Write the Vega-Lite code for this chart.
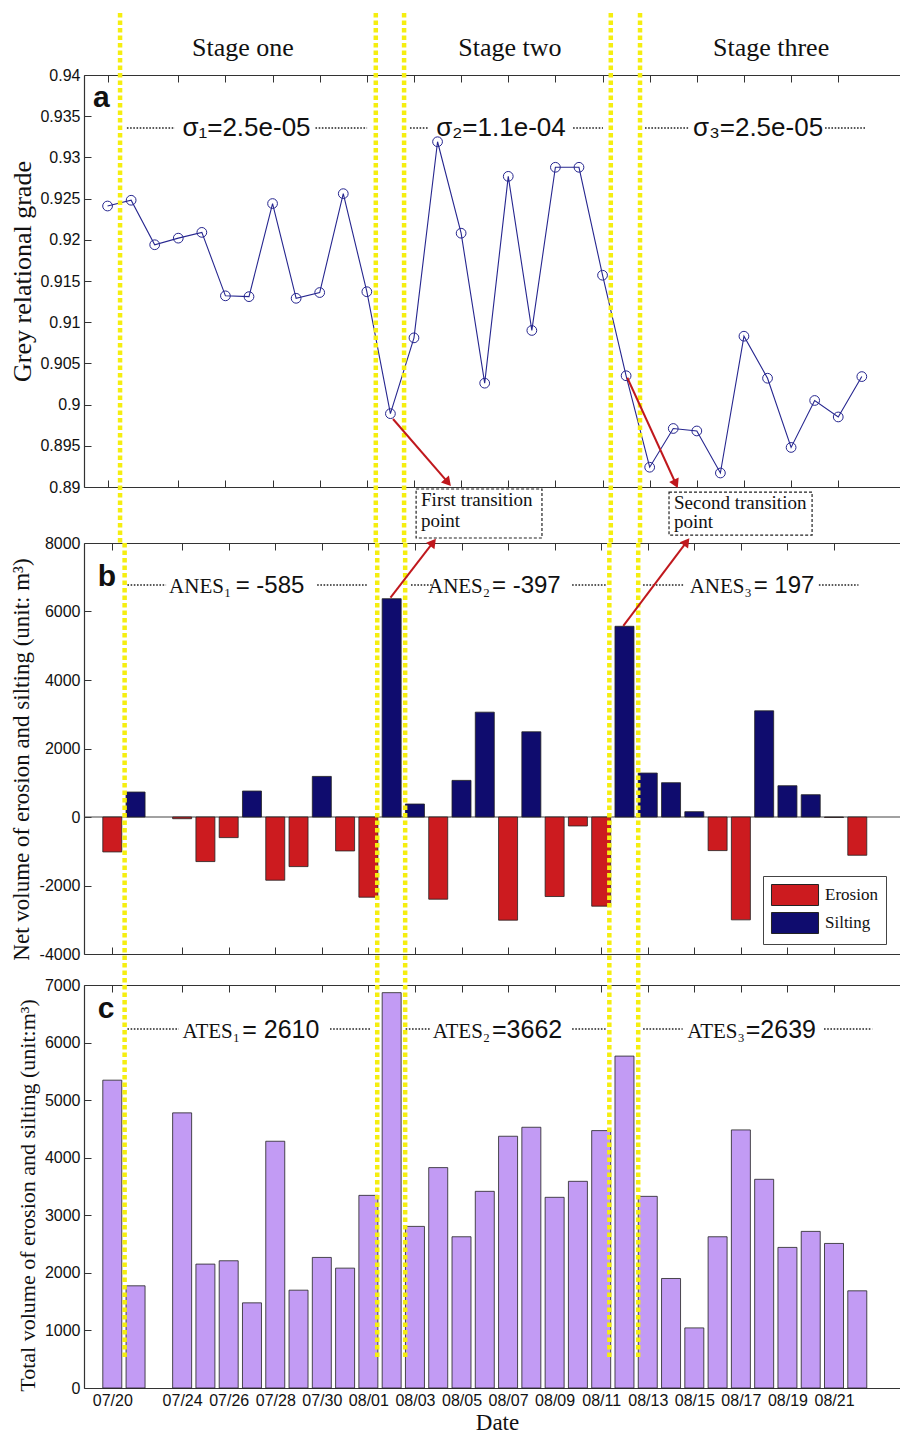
{
 "$schema": "https://vega.github.io/schema/vega-lite/v6.json",
 "padding": {"left": 9, "top": 10, "right": 0, "bottom": 0},
 "background": "white",
 "datasets": {
  "days": [
   {"slot":1,"date":"07/20","grade":0.9241,"net":-1020,"total":5347,"type":"Erosion"},
   {"slot":2,"date":"07/21","grade":0.9248,"net":729,"total":1775,"type":"Silting"},
   {"slot":3,"date":"07/22","grade":0.9194},
   {"slot":4,"date":"07/24","grade":0.9202,"net":-50,"total":4779,"type":"Erosion"},
   {"slot":5,"date":"07/25","grade":0.9209,"net":-1302,"total":2152,"type":"Erosion"},
   {"slot":6,"date":"07/26","grade":0.9132,"net":-602,"total":2210,"type":"Erosion"},
   {"slot":7,"date":"07/27","grade":0.9131,"net":758,"total":1479,"type":"Silting"},
   {"slot":8,"date":"07/28","grade":0.9244,"net":-1846,"total":4286,"type":"Erosion"},
   {"slot":9,"date":"07/29","grade":0.9129,"net":-1448,"total":1699,"type":"Erosion"},
   {"slot":10,"date":"07/30","grade":0.9136,"net":1185,"total":2268,"type":"Silting"},
   {"slot":11,"date":"07/31","grade":0.9256,"net":-991,"total":2082,"type":"Erosion"},
   {"slot":12,"date":"08/01","grade":0.9137,"net":-2342,"total":3346,"type":"Erosion"},
   {"slot":13,"date":"08/02","grade":0.8989,"net":6374,"total":6867,"type":"Silting"},
   {"slot":14,"date":"08/03","grade":0.9081,"net":379,"total":2807,"type":"Silting"},
   {"slot":15,"date":"08/04","grade":0.9319,"net":-2400,"total":3828,"type":"Erosion"},
   {"slot":16,"date":"08/05","grade":0.9208,"net":1069,"total":2627,"type":"Silting"},
   {"slot":17,"date":"08/06","grade":0.9026,"net":3061,"total":3416,"type":"Silting"},
   {"slot":18,"date":"08/07","grade":0.9277,"net":-3012,"total":4373,"type":"Erosion"},
   {"slot":19,"date":"08/08","grade":0.9090,"net":2488,"total":4529,"type":"Silting"},
   {"slot":20,"date":"08/09","grade":0.9288,"net":-2322,"total":3312,"type":"Erosion"},
   {"slot":21,"date":"08/10","grade":0.9288,"net":-262,"total":3590,"type":"Erosion"},
   {"slot":22,"date":"08/11","grade":0.9157,"net":-2604,"total":4471,"type":"Erosion"},
   {"slot":23,"date":"08/12","grade":0.9035,"net":5568,"total":5765,"type":"Silting"},
   {"slot":24,"date":"08/13","grade":0.8924,"net":1283,"total":3329,"type":"Silting"},
   {"slot":25,"date":"08/14","grade":0.8971,"net":1001,"total":1902,"type":"Silting"},
   {"slot":26,"date":"08/15","grade":0.8968,"net":155,"total":1044,"type":"Silting"},
   {"slot":27,"date":"08/16","grade":0.8917,"net":-981,"total":2627,"type":"Erosion"},
   {"slot":28,"date":"08/17","grade":0.9083,"net":-3003,"total":4483,"type":"Erosion"},
   {"slot":29,"date":"08/18","grade":0.9032,"net":3100,"total":3625,"type":"Silting"},
   {"slot":30,"date":"08/19","grade":0.8948,"net":913,"total":2442,"type":"Silting"},
   {"slot":31,"date":"08/20","grade":0.9005,"net":651,"total":2720,"type":"Silting"},
   {"slot":32,"date":"08/21","grade":0.8985,"net":-15,"total":2511,"type":"Erosion"},
   {"slot":33,"date":"08/22","grade":0.9034,"net":-1117,"total":1688,"type":"Erosion"}
  ],
  "bounds": [{"b":1.53},{"b":12.38},{"b":13.58},{"b":22.35},{"b":23.59}]
 },
 "spacing": 31,
 "bounds": "flush",
 "vconcat": [
  {
   "width": 816, "height": 437,
   "data": {"name": "days"},
   "resolve": {"axis": {"x": "independent", "y": "independent"}},
   "layer": [
    {"mark": {"type": "line", "color": "#26268f", "strokeWidth": 1.1},
     "encoding": {
      "x": {"field": "slot", "type": "quantitative", "scale": {"domain": [0, 34.62], "nice": false, "zero": false},
            "axis": {"orient": "bottom", "offset": -25, "values": [1,4,6,8,10,12,14,16,18,20,22,24,26,28,30,32], "labels": false, "tickSize": -7, "title": null}},
      "y": {"field": "grade", "type": "quantitative", "scale": {"domain": [0.89, 0.94], "range": [412, 0], "nice": false, "zero": false},
            "axis": {"orient": "left", "values": [0.89,0.895,0.9,0.905,0.91,0.915,0.92,0.925,0.93,0.935,0.94], "format": "~g", "tickSize": -7, "labelPadding": 11,
                     "title": "Grey relational grade", "titleFontSize": 26, "titleX": -62, "titleY": 196, "titleBaseline": "middle", "titleAngle": -90}}
     }},
    {"mark": {"type": "point", "shape": "circle", "filled": false, "color": "#26268f", "size": 95, "strokeWidth": 1, "opacity": 1},
     "encoding": {
      "x": {"field": "slot", "type": "quantitative", "axis": {"orient": "top", "values": [1,4,6,8,10,12,14,16,18,20,22,24,26,28,30,32], "labels": false, "tickSize": -7, "title": null}},
      "y": {"field": "grade", "type": "quantitative", "axis": null}
     }},
    {"data": {"name": "bounds"}, "mark": {"type": "rule", "color": "#f5ee10", "strokeWidth": 4.5, "strokeDash": [4.5, 3]},
     "encoding": {"x": {"field": "b", "type": "quantitative", "axis": null}, "y": {"datum": 0.94752, "axis": null}, "y2": {"datum": 0.8832}}},
    {"data": {"values": [{}]}, "mark": {"type": "rect", "fill": "white", "stroke": "#222", "strokeWidth": 1.2, "strokeDash": [3, 2]},
     "encoding": {"x": {"datum": 14.09, "axis": null}, "x2": {"datum": 19.43}, "y": {"datum": 0.88976, "axis": null}, "y2": {"datum": 0.88381}}},
    {"data": {"values": [{}]}, "mark": {"type": "rect", "fill": "white", "stroke": "#222", "strokeWidth": 1.2, "strokeDash": [3, 2]},
     "encoding": {"x": {"datum": 24.82, "axis": null}, "x2": {"datum": 30.89}, "y": {"datum": 0.88939, "axis": null}, "y2": {"datum": 0.88417}}},
    {"data": {"values": [{}]}, "mark": {"type": "text", "text": ["First transition", "point"], "font": "Liberation Serif", "fontSize": 19, "align": "left", "baseline": "alphabetic", "lineHeight": 21, "color": "#111"},
     "encoding": {"x": {"datum": 14.3, "axis": null}, "y": {"datum": 0.88769, "axis": null}}},
    {"data": {"values": [{}]}, "mark": {"type": "text", "text": ["Second transition", "point"], "font": "Liberation Serif", "fontSize": 19, "align": "left", "baseline": "alphabetic", "lineHeight": 19, "color": "#111"},
     "encoding": {"x": {"datum": 25.03, "axis": null}, "y": {"datum": 0.88733, "axis": null}}},
    {"data": {"values": [{}]}, "mark": {"type": "text", "text": "Stage one", "font": "Liberation Serif", "fontSize": 26, "align": "center", "baseline": "alphabetic", "color": "#111"},
     "encoding": {"x": {"datum": 6.746, "axis": null}, "y": {"datum": 0.94231, "axis": null}}},
    {"data": {"values": [{}]}, "mark": {"type": "text", "text": "Stage two", "font": "Liberation Serif", "fontSize": 26, "align": "center", "baseline": "alphabetic", "color": "#111"},
     "encoding": {"x": {"datum": 18.07, "axis": null}, "y": {"datum": 0.94231, "axis": null}}},
    {"data": {"values": [{}]}, "mark": {"type": "text", "text": "Stage three", "font": "Liberation Serif", "fontSize": 26, "align": "center", "baseline": "alphabetic", "color": "#111"},
     "encoding": {"x": {"datum": 29.15, "axis": null}, "y": {"datum": 0.94231, "axis": null}}},
    {"data": {"values": [{}]}, "mark": {"type": "text", "text": "a", "font": "Liberation Sans", "fontSize": 30, "fontWeight": "bold", "align": "left", "baseline": "alphabetic", "color": "#111"},
     "encoding": {"x": {"datum": 0.38, "axis": null}, "y": {"datum": 0.93612, "axis": null}}},
    {"data": {"values": [{}]}, "mark": {"type": "text", "text": "σ₁=2.5e-05", "font": "Liberation Sans", "fontSize": 26, "align": "center", "baseline": "alphabetic", "color": "#111"},
     "encoding": {"x": {"datum": 6.894, "axis": null}, "y": {"datum": 0.9326, "axis": null}}},
    {"data": {"values": [{}]}, "mark": {"type": "text", "text": "σ₂=1.1e-04", "font": "Liberation Sans", "fontSize": 26, "align": "center", "baseline": "alphabetic", "color": "#111"},
     "encoding": {"x": {"datum": 17.69, "axis": null}, "y": {"datum": 0.9326, "axis": null}}},
    {"data": {"values": [{}]}, "mark": {"type": "text", "text": "σ₃=2.5e-05", "font": "Liberation Sans", "fontSize": 26, "align": "center", "baseline": "alphabetic", "color": "#111"},
     "encoding": {"x": {"datum": 28.6, "axis": null}, "y": {"datum": 0.9326, "axis": null}}},
    {"data": {"values": [{}]}, "mark": {"type": "rule", "color": "#222", "strokeWidth": 1.6, "strokeDash": [1.6, 1.6]},
     "encoding": {"x": {"datum": 1.82, "axis": null}, "x2": {"datum": 3.86}, "y": {"datum": 0.93357, "axis": null}}},
    {"data": {"values": [{}]}, "mark": {"type": "rule", "color": "#222", "strokeWidth": 1.6, "strokeDash": [1.6, 1.6]},
     "encoding": {"x": {"datum": 9.82, "axis": null}, "x2": {"datum": 12.01}, "y": {"datum": 0.93357, "axis": null}}},
    {"data": {"values": [{}]}, "mark": {"type": "rule", "color": "#222", "strokeWidth": 1.6, "strokeDash": [1.6, 1.6]},
     "encoding": {"x": {"datum": 13.83, "axis": null}, "x2": {"datum": 14.6}, "y": {"datum": 0.93357, "axis": null}}},
    {"data": {"values": [{}]}, "mark": {"type": "rule", "color": "#222", "strokeWidth": 1.6, "strokeDash": [1.6, 1.6]},
     "encoding": {"x": {"datum": 20.75, "axis": null}, "x2": {"datum": 22.02}, "y": {"datum": 0.93357, "axis": null}}},
    {"data": {"values": [{}]}, "mark": {"type": "rule", "color": "#222", "strokeWidth": 1.6, "strokeDash": [1.6, 1.6]},
     "encoding": {"x": {"datum": 23.8, "axis": null}, "x2": {"datum": 25.63}, "y": {"datum": 0.93357, "axis": null}}},
    {"data": {"values": [{}]}, "mark": {"type": "rule", "color": "#222", "strokeWidth": 1.6, "strokeDash": [1.6, 1.6]},
     "encoding": {"x": {"datum": 31.44, "axis": null}, "x2": {"datum": 33.14}, "y": {"datum": 0.93357, "axis": null}}},
    {"data": {"values": [{}]}, "mark": {"type": "rule", "color": "#c0181d", "strokeWidth": 2},
     "encoding": {"x": {"datum": 13.11, "axis": null}, "y": {"datum": 0.89825, "axis": null}, "x2": {"datum": 15.44}, "y2": {"datum": 0.89055}}},
    {"data": {"values": [{}]}, "mark": {"type": "point", "shape": "triangle-up", "filled": true, "color": "#c0181d", "size": 110, "angle": 139, "opacity": 1},
     "encoding": {"x": {"datum": 15.44, "axis": null}, "y": {"datum": 0.89055, "axis": null}}},
    {"data": {"values": [{}]}, "mark": {"type": "rule", "color": "#c0181d", "strokeWidth": 2},
     "encoding": {"x": {"datum": 23.05, "axis": null}, "y": {"datum": 0.90326, "axis": null}, "x2": {"datum": 25.11}, "y2": {"datum": 0.89039}}},
    {"data": {"values": [{}]}, "mark": {"type": "point", "shape": "triangle-up", "filled": true, "color": "#c0181d", "size": 110, "angle": 155, "opacity": 1},
     "encoding": {"x": {"datum": 25.11, "axis": null}, "y": {"datum": 0.89039, "axis": null}}}
   ]
  },
  {
   "width": 816, "height": 411,
   "data": {"name": "days"},
   "resolve": {"axis": {"x": "independent", "y": "independent"}},
   "layer": [
    {"data": {"values": [{}]}, "mark": {"type": "rule", "color": "#444", "strokeWidth": 1},
     "encoding": {"y": {"datum": 0, "axis": null}}},
    {"mark": {"type": "bar", "size": 19, "stroke": "#222", "strokeWidth": 0.8},
     "encoding": {
      "x": {"field": "slot", "type": "quantitative", "scale": {"domain": [0, 34.62], "nice": false, "zero": false},
            "axis": {"orient": "bottom", "values": [1,4,6,8,10,12,14,16,18,20,22,24,26,28,30,32], "labels": false, "tickSize": -7, "title": null}},
      "y": {"field": "net", "type": "quantitative", "scale": {"domain": [-4000, 8000], "nice": false},
            "axis": {"orient": "left", "values": [-4000,-2000,0,2000,4000,6000,8000], "format": "d", "labelExpr": "replace(datum.label, '\u2212', '-')", "tickSize": -7, "labelPadding": 11,
                     "title": "Net volume of erosion and silting (unit: m³)", "titleFontSize": 23, "titleX": -62.5, "titleY": 216, "titleBaseline": "middle", "titleAngle": -90}},
      "color": {"field": "type", "type": "nominal", "scale": {"domain": ["Erosion", "Silting"], "range": ["#cc1b1f", "#0f0c6e"]},
                "legend": {"orient": "none", "legendX": 679, "legendY": 801, "direction": "vertical", "title": null,
                           "symbolType": "M-2.24,-1H2.24V1H-2.24Z", "symbolSize": 441, "symbolOffset": 13, "symbolStrokeColor": "#222", "symbolStrokeWidth": 1, "symbolOpacity": 1,
                           "labelFont": "Liberation Serif", "labelFontSize": 17, "labelColor": "#111", "labelOffset": 19,
                           "labelExpr": "datum.label + '\u00a0\u00a0'",
                           "strokeColor": "#444", "fillColor": "white", "padding": 8, "rowPadding": 2}}
     }},
    {"data": {"name": "bounds"}, "mark": {"type": "rule", "color": "#f5ee10", "strokeWidth": 4.5, "strokeDash": [4.5, 3]},
     "encoding": {"x": {"field": "b", "type": "quantitative", "axis": {"orient": "top", "values": [1,4,6,8,10,12,14,16,18,20,22,24,26,28,30,32], "labels": false, "tickSize": -7, "title": null}},
                  "y": {"datum": 8000, "axis": null}, "y2": {"datum": -4898}}},
    {"data": {"values": [{}]}, "mark": {"type": "text", "text": "b", "font": "Liberation Sans", "fontSize": 30, "fontWeight": "bold", "align": "left", "baseline": "alphabetic", "color": "#111"},
     "encoding": {"x": {"datum": 0.38, "axis": null}, "y": {"datum": 6745, "axis": null}}},
    {"data": {"values": [{}]}, "mark": {"type": "text", "text": "ANES₁", "font": "Liberation Serif", "fontSize": 21, "align": "right", "baseline": "alphabetic", "color": "#111"},
     "encoding": {"x": {"datum": 6.11, "axis": null}, "y": {"datum": 6541, "axis": null}}},
    {"data": {"values": [{}]}, "mark": {"type": "text", "text": "= -585", "font": "Liberation Sans", "fontSize": 24, "align": "left", "baseline": "alphabetic", "color": "#111"},
     "encoding": {"x": {"datum": 6.3, "axis": null}, "y": {"datum": 6541, "axis": null}}},
    {"data": {"values": [{}]}, "mark": {"type": "text", "text": "ANES₂", "font": "Liberation Serif", "fontSize": 21, "align": "right", "baseline": "alphabetic", "color": "#111"},
     "encoding": {"x": {"datum": 17.23, "axis": null}, "y": {"datum": 6541, "axis": null}}},
    {"data": {"values": [{}]}, "mark": {"type": "text", "text": "= -397", "font": "Liberation Sans", "fontSize": 24, "align": "left", "baseline": "alphabetic", "color": "#111"},
     "encoding": {"x": {"datum": 17.31, "axis": null}, "y": {"datum": 6541, "axis": null}}},
    {"data": {"values": [{}]}, "mark": {"type": "text", "text": "ANES₃", "font": "Liberation Serif", "fontSize": 21, "align": "right", "baseline": "alphabetic", "color": "#111"},
     "encoding": {"x": {"datum": 28.47, "axis": null}, "y": {"datum": 6541, "axis": null}}},
    {"data": {"values": [{}]}, "mark": {"type": "text", "text": "= 197", "font": "Liberation Sans", "fontSize": 24, "align": "left", "baseline": "alphabetic", "color": "#111"},
     "encoding": {"x": {"datum": 28.55, "axis": null}, "y": {"datum": 6541, "axis": null}}},
    {"data": {"values": [{}]}, "mark": {"type": "rule", "color": "#222", "strokeWidth": 1.6, "strokeDash": [1.6, 1.6]},
     "encoding": {"x": {"datum": 1.65, "axis": null}, "x2": {"datum": 3.31}, "y": {"datum": 6774, "axis": null}}},
    {"data": {"values": [{}]}, "mark": {"type": "rule", "color": "#222", "strokeWidth": 1.6, "strokeDash": [1.6, 1.6]},
     "encoding": {"x": {"datum": 9.8, "axis": null}, "x2": {"datum": 12.0}, "y": {"datum": 6774, "axis": null}}},
    {"data": {"values": [{}]}, "mark": {"type": "rule", "color": "#222", "strokeWidth": 1.6, "strokeDash": [1.6, 1.6]},
     "encoding": {"x": {"datum": 13.83, "axis": null}, "x2": {"datum": 14.75}, "y": {"datum": 6774, "axis": null}}},
    {"data": {"values": [{}]}, "mark": {"type": "rule", "color": "#222", "strokeWidth": 1.6, "strokeDash": [1.6, 1.6]},
     "encoding": {"x": {"datum": 20.75, "axis": null}, "x2": {"datum": 22.19}, "y": {"datum": 6774, "axis": null}}},
    {"data": {"values": [{}]}, "mark": {"type": "rule", "color": "#222", "strokeWidth": 1.6, "strokeDash": [1.6, 1.6]},
     "encoding": {"x": {"datum": 23.8, "axis": null}, "x2": {"datum": 25.55}, "y": {"datum": 6774, "axis": null}}},
    {"data": {"values": [{}]}, "mark": {"type": "rule", "color": "#222", "strokeWidth": 1.6, "strokeDash": [1.6, 1.6]},
     "encoding": {"x": {"datum": 31.35, "axis": null}, "x2": {"datum": 33.05}, "y": {"datum": 6774, "axis": null}}},
    {"data": {"values": [{}]}, "mark": {"type": "rule", "color": "#c0181d", "strokeWidth": 2},
     "encoding": {"x": {"datum": 12.95, "axis": null}, "y": {"datum": 6404, "axis": null}, "x2": {"datum": 14.78}, "y2": {"datum": 8017}}},
    {"data": {"values": [{}]}, "mark": {"type": "point", "shape": "triangle-up", "filled": true, "color": "#c0181d", "size": 110, "angle": 38, "opacity": 1},
     "encoding": {"x": {"datum": 14.78, "axis": null}, "y": {"datum": 8017, "axis": null}}},
    {"data": {"values": [{}]}, "mark": {"type": "rule", "color": "#c0181d", "strokeWidth": 2},
     "encoding": {"x": {"datum": 22.95, "axis": null}, "y": {"datum": 5578, "axis": null}, "x2": {"datum": 25.67}, "y2": {"datum": 8035}}},
    {"data": {"values": [{}]}, "mark": {"type": "point", "shape": "triangle-up", "filled": true, "color": "#c0181d", "size": 110, "angle": 37, "opacity": 1},
     "encoding": {"x": {"datum": 25.67, "axis": null}, "y": {"datum": 8035, "axis": null}}}
   ]
  },
  {
   "width": 816, "height": 403,
   "data": {"name": "days"},
   "resolve": {"axis": {"x": "independent", "y": "independent"}},
   "layer": [
    {"mark": {"type": "bar", "size": 19, "color": "#c29bf4", "stroke": "#222", "strokeWidth": 0.8},
     "encoding": {
      "x": {"field": "slot", "type": "quantitative", "scale": {"domain": [0, 34.62], "nice": false, "zero": false},
            "axis": {"orient": "bottom", "values": [1,4,6,8,10,12,14,16,18,20,22,24,26,28,30,32], "tickSize": -7, "labelPadding": 11,
                     "labelExpr": "{'1':'07/20','4':'07/24','6':'07/26','8':'07/28','10':'07/30','12':'08/01','14':'08/03','16':'08/05','18':'08/07','20':'08/09','22':'08/11','24':'08/13','26':'08/15','28':'08/17','30':'08/19','32':'08/21'}[datum.value]",
                     "title": "Date", "titleFontSize": 23, "titleX": 413, "titleY": 34, "titleBaseline": "middle"}},
      "y": {"field": "total", "type": "quantitative", "scale": {"domain": [0, 7000], "nice": false},
            "axis": {"orient": "left", "values": [0,1000,2000,3000,4000,5000,6000,7000], "format": "d", "tickSize": -7, "labelPadding": 11,
                     "title": "Total volume of erosion and silting (unit:m³)", "titleFontSize": 22, "titleX": -57, "titleY": 210, "titleBaseline": "middle", "titleAngle": -90}}
     }},
    {"data": {"name": "bounds"}, "mark": {"type": "rule", "color": "#f5ee10", "strokeWidth": 4.5, "strokeDash": [4.5, 3]},
     "encoding": {"x": {"field": "b", "type": "quantitative", "axis": {"orient": "top", "values": [1,4,6,8,10,12,14,16,18,20,22,24,26,28,30,32], "labels": false, "tickSize": -7, "title": null}},
                  "y": {"datum": 7000, "axis": null}, "y2": {"datum": 535}}},
    {"data": {"values": [{}]}, "mark": {"type": "text", "text": "c", "font": "Liberation Sans", "fontSize": 30, "fontWeight": "bold", "align": "left", "baseline": "alphabetic", "color": "#111"},
     "encoding": {"x": {"datum": 0.38, "axis": null}, "y": {"datum": 6426, "axis": null}}},
    {"data": {"values": [{}]}, "mark": {"type": "text", "text": "ATES₁", "font": "Liberation Serif", "fontSize": 21, "align": "right", "baseline": "alphabetic", "color": "#111"},
     "encoding": {"x": {"datum": 6.49, "axis": null}, "y": {"datum": 6079, "axis": null}}},
    {"data": {"values": [{}]}, "mark": {"type": "text", "text": "= 2610", "font": "Liberation Sans", "fontSize": 25, "align": "left", "baseline": "alphabetic", "color": "#111"},
     "encoding": {"x": {"datum": 6.58, "axis": null}, "y": {"datum": 6079, "axis": null}}},
    {"data": {"values": [{}]}, "mark": {"type": "text", "text": "ATES₂", "font": "Liberation Serif", "fontSize": 21, "align": "right", "baseline": "alphabetic", "color": "#111"},
     "encoding": {"x": {"datum": 17.23, "axis": null}, "y": {"datum": 6079, "axis": null}}},
    {"data": {"values": [{}]}, "mark": {"type": "text", "text": "=3662", "font": "Liberation Sans", "fontSize": 25, "align": "left", "baseline": "alphabetic", "color": "#111"},
     "encoding": {"x": {"datum": 17.31, "axis": null}, "y": {"datum": 6079, "axis": null}}},
    {"data": {"values": [{}]}, "mark": {"type": "text", "text": "ATES₃", "font": "Liberation Serif", "fontSize": 21, "align": "right", "baseline": "alphabetic", "color": "#111"},
     "encoding": {"x": {"datum": 28.17, "axis": null}, "y": {"datum": 6079, "axis": null}}},
    {"data": {"values": [{}]}, "mark": {"type": "text", "text": "=2639", "font": "Liberation Sans", "fontSize": 25, "align": "left", "baseline": "alphabetic", "color": "#111"},
     "encoding": {"x": {"datum": 28.21, "axis": null}, "y": {"datum": 6079, "axis": null}}},
    {"data": {"values": [{}]}, "mark": {"type": "rule", "color": "#222", "strokeWidth": 1.6, "strokeDash": [1.6, 1.6]},
     "encoding": {"x": {"datum": 1.65, "axis": null}, "x2": {"datum": 3.86}, "y": {"datum": 6235, "axis": null}}},
    {"data": {"values": [{}]}, "mark": {"type": "rule", "color": "#222", "strokeWidth": 1.6, "strokeDash": [1.6, 1.6]},
     "encoding": {"x": {"datum": 10.35, "axis": null}, "x2": {"datum": 12.13}, "y": {"datum": 6235, "axis": null}}},
    {"data": {"values": [{}]}, "mark": {"type": "rule", "color": "#222", "strokeWidth": 1.6, "strokeDash": [1.6, 1.6]},
     "encoding": {"x": {"datum": 13.6, "axis": null}, "x2": {"datum": 14.68}, "y": {"datum": 6235, "axis": null}}},
    {"data": {"values": [{}]}, "mark": {"type": "rule", "color": "#222", "strokeWidth": 1.6, "strokeDash": [1.6, 1.6]},
     "encoding": {"x": {"datum": 20.75, "axis": null}, "x2": {"datum": 22.19}, "y": {"datum": 6235, "axis": null}}},
    {"data": {"values": [{}]}, "mark": {"type": "rule", "color": "#222", "strokeWidth": 1.6, "strokeDash": [1.6, 1.6]},
     "encoding": {"x": {"datum": 23.8, "axis": null}, "x2": {"datum": 25.5}, "y": {"datum": 6235, "axis": null}}},
    {"data": {"values": [{}]}, "mark": {"type": "rule", "color": "#222", "strokeWidth": 1.6, "strokeDash": [1.6, 1.6]},
     "encoding": {"x": {"datum": 31.57, "axis": null}, "x2": {"datum": 33.64}, "y": {"datum": 6235, "axis": null}}}
   ]
  }
 ],
 "config": {
  "view": {"stroke": null},
  "axis": {"domainColor": "#333", "domainWidth": 1.2, "tickColor": "#333", "tickWidth": 1, "labelColor": "#111", "labelFont": "Liberation Sans", "labelFontSize": 16,
           "titleFont": "Liberation Serif", "titleFontWeight": "normal", "titleColor": "#111", "grid": false, "labelFlush": false, "labelOverlap": false}
 }
}
